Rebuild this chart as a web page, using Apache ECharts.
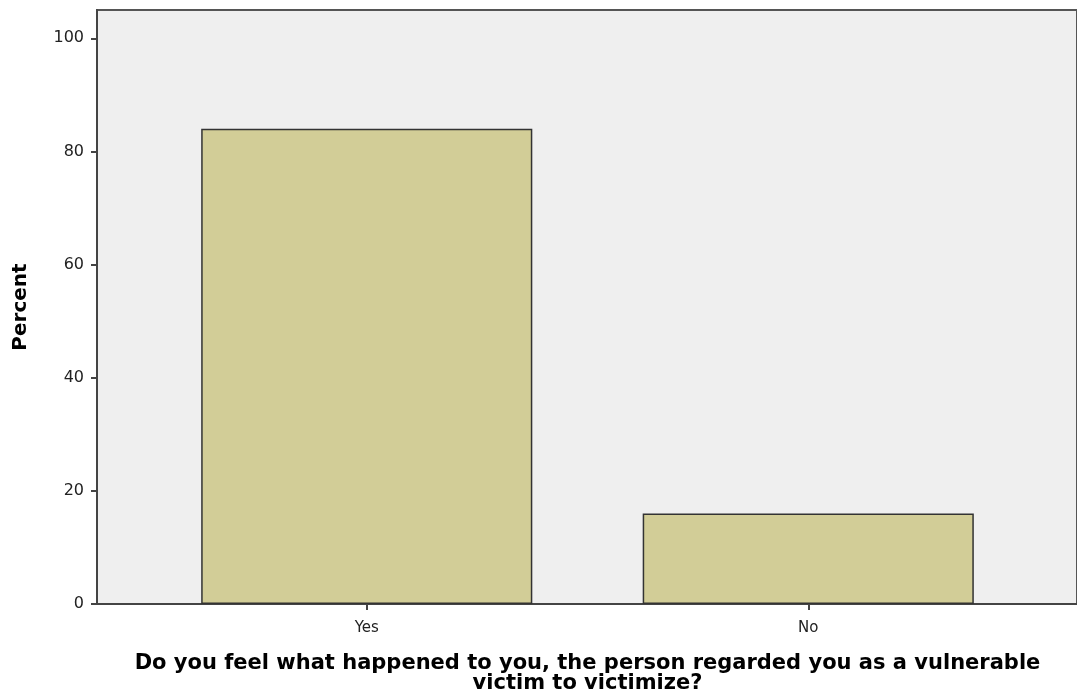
<!DOCTYPE html>
<html>
<head>
<meta charset="utf-8">
<script src="https://cdn.jsdelivr.net/npm/echarts@6/dist/echarts.min.js"></script>
<style>
  html, body { margin: 0; padding: 0; background: #fff; }
  #chart { width: 1077px; height: 700px; }
</style>
</head>
<body>
<div id="chart"></div>
<script>
var categories = ["Yes", "No"];
var percents = [84, 16];
var yTicks = [0, 20, 40, 60, 80, 100];

var chart = echarts.init(document.getElementById("chart"));
chart.setOption({
  animation: false,
  grid: [
    // frame + y axis
    { left: 97, right: 0, top: 10, bottom: 96, show: true, outerBoundsMode: "none",
      backgroundColor: "#efefef", borderColor: "#555", borderWidth: 2 },
    // bars sit in a narrower band, as in the original
    { left: 146, right: 48, top: 10, bottom: 96, outerBoundsMode: "none" }
  ],
  xAxis: [
    {
      gridIndex: 0,
      type: "value",
      min: 0,
      max: 1,
      axisLine: { show: true, lineStyle: { color: "#444", width: 2 } },
      axisTick: { show: false },
      axisLabel: { show: false },
      splitLine: { show: false }
    },
    {
      gridIndex: 1,
      type: "category",
      data: categories,
      name: "Do you feel what happened to you, the person regarded you as a vulnerable\nvictim to victimize?",
      nameLocation: "middle",
      nameGap: 50,
      nameMoveOverlap: false,
      nameTextStyle: {
        fontFamily: "DejaVu Sans",
        fontWeight: "bold",
        fontSize: 21,
        color: "#000",
        lineHeight: 20
      },
      axisLine: { show: true, lineStyle: { color: "#444", width: 2 } },
      axisTick: { show: true, alignWithLabel: true, length: 6, lineStyle: { color: "#444", width: 2 } },
      axisLabel: {
        fontFamily: "DejaVu Sans",
        fontSize: 15,
        color: "#222",
        margin: 17
      }
    }
  ],
  yAxis: [
    {
      gridIndex: 0,
      type: "value",
      min: 0,
      max: 105,
      interval: 20,
      name: "Percent",
      nameLocation: "middle",
      nameGap: 66,
      nameTextStyle: {
        fontFamily: "DejaVu Sans",
        fontWeight: "bold",
        fontSize: 20,
        color: "#000"
      },
      splitLine: { show: false },
      axisLine: { show: true, lineStyle: { color: "#444", width: 2 } },
      axisTick: { show: true, length: 6, lineStyle: { color: "#444", width: 2 } },
      axisLabel: {
        showMaxLabel: false,
        fontFamily: "DejaVu Sans",
        fontSize: 16,
        color: "#222",
        margin: 13,
        formatter: function (v) { return yTicks.indexOf(v) >= 0 ? String(v) : ""; }
      }
    },
    {
      gridIndex: 1,
      type: "value",
      min: 0,
      max: 105,
      show: false
    }
  ],
  series: [{
    type: "bar",
    xAxisIndex: 1,
    yAxisIndex: 1,
    data: percents,
    barWidth: "75%",
    itemStyle: {
      color: "#d2cd97",
      borderColor: "#333",
      borderWidth: 1.5
    }
  }]
});
</script>
</body>
</html>
